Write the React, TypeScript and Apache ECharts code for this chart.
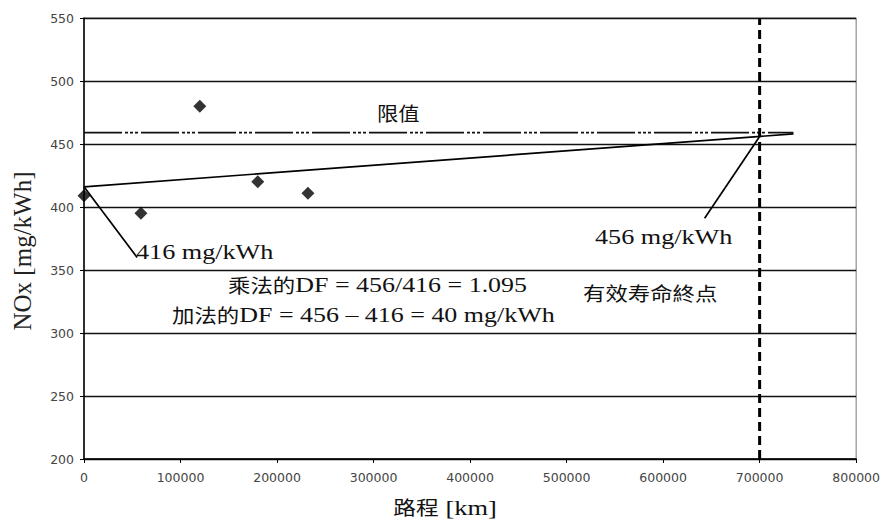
import React, { useEffect, useRef } from "react";
import * as echarts from "echarts";

const measuredPoints: [number, number][] = [
  [0, 409],
  [59000, 395],
  [120000, 480],
  [180000, 420],
  [232000, 411],
];
const regressionLine: [number, number][] = [
  [0, 416],
  [735000, 458],
];
const limitLine: [number, number][] = [
  [0, 459],
  [735000, 459],
];
const usefulLifeEnd = 700000;
const leader416: [number, number][] = [
  [0, 416],
  [55000, 360],
];
const leader456: [number, number][] = [
  [700000, 456],
  [643000, 391],
];
const xTicks = [0, 100000, 200000, 300000, 400000, 500000, 600000, 700000, 800000];
const yTicks = [200, 250, 300, 350, 400, 450, 500, 550];

const SERIF = "Liberation Serif, Times New Roman, Noto Sans CJK TC, serif";
const CJK = "Noto Sans CJK TC, Noto Sans CJK SC, sans-serif";
const TICK = "DejaVu Sans, Liberation Sans, sans-serif";

function txt(x: number, y: number, text: string, rich: any, scaleX = 1.15, extra: any = {}) {
  return {
    type: "text",
    x,
    y,
    scaleX,
    z: 100,
    ...extra,
    style: {
      text,
      rich,
      fill: "#111",
      textVerticalAlign: "middle",
      verticalAlign: "middle",
      textAlign: extra.align || "left",
      align: extra.align || "left",
    },
  };
}

const serifRich = {
  s: { fontFamily: SERIF, fontSize: 22, fill: "#111" },
  c: { fontFamily: CJK, fontSize: 19, fill: "#111" },
  k: { fontFamily: CJK, fontSize: 19, fill: "#111" },
};

export default function App() {
  const ref = useRef<HTMLDivElement>(null);
  useEffect(() => {
    if (!ref.current) return;
    const chart = echarts.init(ref.current, undefined, { renderer: "svg" });
    chart.setOption({
      animation: false,
      backgroundColor: "#fff",
      grid: {
        left: 84,
        right: 26,
        top: 18,
        bottom: 67,
        show: true,
        borderColor: "#777",
        borderWidth: 1,
      },
      xAxis: {
        type: "value",
        min: xTicks[0],
        max: xTicks[xTicks.length - 1],
        interval: 100000,
        axisLine: { show: true, lineStyle: { color: "#000", width: 1.5 } },
        axisTick: { show: true, length: 4, lineStyle: { color: "#000" } },
        axisLabel: {
          fontFamily: TICK,
          fontSize: 12.5,
          color: "#444",
          margin: 12,
          formatter: (v: number) => String(v),
        },
        splitLine: { show: false },
      },
      yAxis: {
        type: "value",
        min: yTicks[0],
        max: yTicks[yTicks.length - 1],
        interval: 50,
        axisLine: { show: true, lineStyle: { color: "#000", width: 1.5 } },
        axisTick: { show: true, length: 4, lineStyle: { color: "#000" } },
        axisLabel: {
          fontFamily: TICK,
          fontSize: 12.5,
          color: "#444",
          margin: 10,
        },
        splitLine: { show: true, lineStyle: { color: "#111", width: 1.3 } },
      },
      series: [
        {
          type: "line",
          data: limitLine,
          symbol: "none",
          lineStyle: { color: "#111", width: 1.8, type: [38, 3, 3, 2, 3, 2, 3, 3] },
          z: 3,
        },
        {
          type: "line",
          data: regressionLine,
          symbol: "none",
          lineStyle: { color: "#000", width: 1.7 },
          z: 4,
        },
        {
          type: "line",
          data: [
            [usefulLifeEnd, yTicks[0]],
            [usefulLifeEnd, yTicks[yTicks.length - 1]],
          ],
          symbol: "none",
          lineStyle: { color: "#000", width: 3, type: [9, 5] },
          z: 5,
        },
        {
          type: "line",
          data: leader416,
          symbol: "none",
          lineStyle: { color: "#000", width: 1.7 },
          z: 4,
        },
        {
          type: "line",
          data: leader456,
          symbol: "none",
          lineStyle: { color: "#000", width: 1.7 },
          z: 4,
        },
        {
          type: "scatter",
          data: measuredPoints,
          symbol: "diamond",
          symbolSize: 13,
          itemStyle: { color: "#000" },
          z: 6,
        },
      ],
      graphic: [
        txt(377, 113, "{k|限值}", serifRich, 1.12),
        txt(136, 251, "{s|416 mg/kWh}", serifRich, 1.19),
        txt(595, 236, "{s|456 mg/kWh}", serifRich, 1.19),
        txt(228, 285, "{c|乘法的}{s|DF = 456/416 = 1.095}", serifRich, 1.18),
        txt(172, 315, "{c|加法的}{s|DF = 456 – 416 = 40 mg/kWh}", serifRich, 1.18),
        txt(583, 293, "{k|有效寿命終点}", serifRich, 1.18),
        txt(445, 507, "{c|路程}{s| [km]}", serifRich, 1.2, { align: "center" }),
        {
          type: "text",
          x: 22,
          y: 251,
          rotation: Math.PI / 2,
          z: 100,
          style: {
            text: "NOx [mg/kWh]",
            fontFamily: SERIF,
            fontSize: 25,
            fill: "#222",
            textAlign: "center",
            align: "center",
            textVerticalAlign: "middle",
            verticalAlign: "middle",
          },
        },
      ],
    });
    return () => chart.dispose();
  }, []);
  return (
    <div
      ref={ref}
      style={{ position: "fixed", left: 0, top: 0, width: 883, height: 526, background: "#fff" }}
    />
  );
}
